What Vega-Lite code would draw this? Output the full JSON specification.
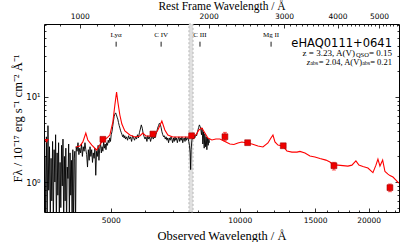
{
  "$schema": "https://vega.github.io/schema/vega-lite/v6.json",
  "width": 355,
  "height": 188,
  "autosize": "none",
  "padding": {"left": 44, "top": 24, "right": 8, "bottom": 30},
  "config": {
    "view": {"stroke": "black", "strokeWidth": 1},
    "axis": {"grid": false, "domain": false, "tickColor": "black", "labelColor": "black", "titleColor": "black", "labelFont": "DejaVu Sans", "labelFontSize": 7.5, "titleFont": "Liberation Serif", "titleFontSize": 12.5, "titleFontWeight": "normal", "tickWidth": 0.8}
  },
  "datasets": {
    "black": [
      {"w":3490,"f":0.5},{"w":3505,"f":2.0},{"w":3520,"f":0.4},{"w":3535,"f":3.4},{"w":3550,"f":0.3},{"w":3565,"f":4.6},{"w":3580,"f":0.8},{"w":3595,"f":2.6},{"w":3610,"f":0.35},{"w":3625,"f":1.9},{"w":3640,"f":0.6},{"w":3655,"f":3.0},{"w":3670,"f":0.3},{"w":3685,"f":2.4},{"w":3700,"f":1.0},{"w":3715,"f":3.6},{"w":3730,"f":0.3},{"w":3745,"f":2.2},{"w":3760,"f":0.7},{"w":3775,"f":2.9},{"w":3790,"f":0.35},{"w":3805,"f":1.7},{"w":3820,"f":0.5},{"w":3835,"f":2.7},{"w":3850,"f":0.9},{"w":3865,"f":3.2},{"w":3880,"f":0.3},{"w":3895,"f":2.0},{"w":3910,"f":0.6},{"w":3925,"f":2.5},{"w":3940,"f":0.3},{"w":3955,"f":1.5},{"w":3970,"f":1.1},{"w":3985,"f":2.8},{"w":4000,"f":0.4},{"w":4015,"f":2.2},{"w":4030,"f":0.7},{"w":4045,"f":1.8},{"w":4060,"f":0.3},{"w":4075,"f":2.4},{"w":4090,"f":0.3},{"w":4105,"f":1.9},{"w":4120,"f":2.3},{"w":4135,"f":0.3},
      {"w":4150,"f":2.6},{"w":4170,"f":2.3},{"w":4190,"f":2.9},{"w":4210,"f":2.1},{"w":4230,"f":2.5},{"w":4250,"f":2.2},{"w":4270,"f":2.8},{"w":4290,"f":2.0},{"w":4310,"f":2.6},{"w":4330,"f":2.3},{"w":4350,"f":2.9},{"w":4370,"f":2.4},{"w":4390,"f":2.1},{"w":4410,"f":1.5},{"w":4430,"f":2.4},{"w":4450,"f":1.8},{"w":4470,"f":2.6},{"w":4490,"f":2.0},{"w":4510,"f":2.4},{"w":4530,"f":1.7},{"w":4550,"f":2.2},{"w":4570,"f":1.9},{"w":4590,"f":2.5},{"w":4610,"f":1.2},{"w":4630,"f":2.3},{"w":4650,"f":2.0},{"w":4670,"f":2.7},{"w":4690,"f":1.8},{"w":4710,"f":2.5},{"w":4730,"f":2.9},{"w":4750,"f":2.2},{"w":4770,"f":2.6},{"w":4790,"f":2.3},{"w":4810,"f":3.0},{"w":4830,"f":2.5},{"w":4850,"f":2.8},{"w":4870,"f":2.4},{"w":4890,"f":2.9},{"w":4910,"f":2.7},{"w":4930,"f":3.1},{"w":4950,"f":2.9},{"w":4970,"f":3.3},{"w":4990,"f":3.0},{"w":5010,"f":3.6},{"w":5030,"f":3.9},{"w":5050,"f":4.5},{"w":5070,"f":5.2},{"w":5090,"f":5.9},{"w":5110,"f":6.3},{"w":5130,"f":6.5},{"w":5150,"f":6.2},{"w":5170,"f":5.8},{"w":5190,"f":5.5},{"w":5210,"f":5.0},{"w":5230,"f":4.6},{"w":5250,"f":4.3},{"w":5270,"f":4.0},{"w":5290,"f":3.8},{"w":5310,"f":3.6},{"w":5330,"f":3.4},{"w":5350,"f":3.6},{"w":5370,"f":3.3},{"w":5390,"f":3.5},{"w":5410,"f":3.2},
      {"w":5440,"f":3.4},{"w":5470,"f":3.1},{"w":5500,"f":3.5},{"w":5530,"f":3.2},{"w":5560,"f":3.4},{"w":5590,"f":3.0},{"w":5620,"f":3.5},{"w":5650,"f":3.3},{"w":5680,"f":3.1},{"w":5710,"f":3.4},{"w":5740,"f":3.2},{"w":5770,"f":3.6},{"w":5800,"f":3.3},{"w":5830,"f":3.8},{"w":5860,"f":4.2},{"w":5890,"f":4.7},{"w":5920,"f":4.3},{"w":5950,"f":3.7},{"w":5980,"f":3.4},{"w":6010,"f":3.2},{"w":6040,"f":3.4},{"w":6070,"f":3.0},{"w":6100,"f":3.5},{"w":6130,"f":3.2},{"w":6160,"f":3.4},{"w":6190,"f":3.0},{"w":6220,"f":3.3},{"w":6250,"f":3.5},{"w":6280,"f":3.2},{"w":6310,"f":3.4},{"w":6340,"f":3.3},{"w":6370,"f":3.6},{"w":6400,"f":3.9},{"w":6430,"f":4.3},{"w":6460,"f":4.6},{"w":6490,"f":4.9},{"w":6520,"f":4.8},{"w":6550,"f":4.4},{"w":6580,"f":3.9},{"w":6610,"f":3.6},{"w":6640,"f":3.4},{"w":6670,"f":3.5},{"w":6700,"f":3.2},{"w":6730,"f":3.4},{"w":6760,"f":3.1},{"w":6790,"f":3.3},{"w":6820,"f":2.9},{"w":6850,"f":3.3},{"w":6880,"f":3.1},{"w":6910,"f":3.4},{"w":6940,"f":3.2},{"w":6970,"f":2.9},{"w":7000,"f":3.3},{"w":7030,"f":3.0},{"w":7060,"f":3.4},{"w":7090,"f":3.1},{"w":7120,"f":3.3},{"w":7150,"f":2.9},{"w":7180,"f":3.2},{"w":7210,"f":3.4},{"w":7240,"f":3.0},{"w":7270,"f":3.3},{"w":7300,"f":3.1},{"w":7330,"f":3.4},{"w":7360,"f":2.9},{"w":7390,"f":3.2},{"w":7420,"f":3.3},{"w":7450,"f":3.0},{"w":7480,"f":3.4},{"w":7510,"f":3.1},{"w":7540,"f":3.3},{"w":7570,"f":3.3},{"w":7600,"f":3.0},{"w":7630,"f":2.7},{"w":7660,"f":2.2},{"w":7680,"f":1.4},{"w":7700,"f":2.4},{"w":7730,"f":3.1},{"w":7760,"f":3.4},{"w":7790,"f":3.2},{"w":7820,"f":3.5},{"w":7850,"f":3.3},{"w":7870,"f":3.4},{"w":7900,"f":3.6},{"w":7930,"f":3.5},{"w":7960,"f":3.8},{"w":7990,"f":4.1},{"w":8020,"f":4.4},{"w":8050,"f":4.7},{"w":8080,"f":4.5},{"w":8110,"f":4.2},{"w":8140,"f":3.6},{"w":8170,"f":4.3},{"w":8200,"f":2.8},{"w":8230,"f":3.9},{"w":8260,"f":2.5},{"w":8290,"f":3.7},{"w":8320,"f":2.6},{"w":8350,"f":3.4},{"w":8380,"f":2.4},{"w":8410,"f":3.3},{"w":8440,"f":2.7},{"w":8470,"f":3.2},{"w":8500,"f":2.9}
    ],
    "red": [
      {"w":4141,"f":2.58},{"w":4232,"f":2.65},{"w":4301,"f":2.96},{"w":4370,"f":3.77},{"w":4417,"f":3.12},{"w":4514,"f":2.72},{"w":4630,"f":2.38},{"w":4713,"f":2.72},{"w":4790,"f":3.12},{"w":4893,"f":3.29},{"w":4973,"f":3.57},{"w":5054,"f":5.08},{"w":5109,"f":8.05},{"w":5156,"f":11.45},{"w":5192,"f":8.73},{"w":5248,"f":6.14},{"w":5305,"f":4.81},{"w":5391,"f":3.98},{"w":5538,"f":3.57},{"w":5689,"f":3.38},{"w":5844,"f":3.48},{"w":5939,"f":3.77},{"w":6036,"f":3.48},{"w":6167,"f":3.48},{"w":6335,"f":3.57},{"w":6438,"f":4.09},{"w":6578,"f":5.22},{"w":6685,"f":4.09},{"w":6794,"f":3.57},{"w":6979,"f":3.38},{"w":7247,"f":3.38},{"w":7525,"f":3.38},{"w":7731,"f":3.38},{"w":7899,"f":3.57},{"w":8027,"f":4.09},{"w":8158,"f":4.32},{"w":8291,"f":3.77},{"w":8426,"f":3.29},{"w":8609,"f":3.12},{"w":8796,"f":3.21},{"w":8987,"f":3.21},{"w":9183,"f":3.04},{"w":9484,"f":2.8},{"w":9691,"f":2.76},{"w":9902,"f":2.88},{"w":10117,"f":2.96},{"w":10395,"f":2.88},{"w":10679,"f":2.8},{"w":11029,"f":2.65},{"w":11329,"f":2.58},{"w":11638,"f":2.88},{"w":11828,"f":3.29},{"w":11956,"f":3.57},{"w":12085,"f":2.96},{"w":12282,"f":2.72},{"w":12617,"f":2.65},{"w":12891,"f":2.32},{"w":13242,"f":2.25},{"w":13604,"f":2.25},{"w":13825,"f":2.29},{"w":14203,"f":2.19},{"w":14587,"f":2.02},{"w":14984,"f":1.97},{"w":15393,"f":1.89},{"w":15896,"f":1.81},{"w":16242,"f":1.72},{"w":16595,"f":1.58},{"w":16956,"f":1.58},{"w":17419,"f":1.56},{"w":17892,"f":1.54},{"w":18282,"f":1.58},{"w":18678,"f":1.77},{"w":18982,"f":1.58},{"w":19396,"f":1.52},{"w":19926,"f":1.46},{"w":20468,"f":1.29},{"w":20804,"f":1.58},{"w":21028,"f":1.86},{"w":21257,"f":1.54},{"w":21568,"f":1.81},{"w":21838,"f":1.33},{"w":22193,"f":1.24},{"w":22434,"f":1.19},{"w":22798,"f":1.145},{"w":23169,"f":1.055},{"w":23508,"f":0.973}
    ],
    "phot": [
      {"w":4790,"f":3.18,"lo":3.1,"hi":3.26},{"w":6268,"f":3.67,"lo":3.58,"hi":3.76},{"w":7719,"f":3.5,"lo":3.42,"hi":3.58},{"w":9235,"f":3.41,"lo":3.06,"hi":3.84},{"w":10433,"f":2.9,"lo":2.83,"hi":2.97},{"w":12637,"f":2.67,"lo":2.6,"hi":2.74},{"w":16596,"f":1.555,"lo":1.384,"hi":1.705},{"w":22430,"f":0.859,"lo":0.769,"hi":0.947}
    ],
    "ulim": [{"w":3539,"f":3.04}],
    "lines": [
      {"w":5144,"name":"Lyα"},{"w":6552,"name":"C IV"},{"w":8075,"name":"C III"},{"w":11836,"name":"Mg II"}
    ],
    "telluric": [{"a":7610,"b":7780}]
  },
  "layer": [
    {
      "layer": [
        {
          "data": {"name": "telluric"},
          "mark": {"type": "rect", "fill": "#e0e0e0", "stroke": "#a8a8a8", "strokeDash": [2, 2], "strokeWidth": 0.8},
          "encoding": {
            "x": {"field": "a", "type": "quantitative", "scale": {"type": "log", "domain": [3490, 23550], "nice": false}, "axis": null},
            "x2": {"field": "b"}
          }
        },
        {
          "data": {"name": "black"},
          "mark": {"type": "line", "color": "black", "strokeWidth": 0.9, "clip": true},
          "encoding": {
            "x": {"field": "w", "type": "quantitative", "scale": {"type": "log", "domain": [3490, 23550], "nice": false},
              "axis": {"orient": "bottom", "values": [5000, 10000, 15000, 20000], "format": "d", "title": "Observed Wavelength / Å", "tickSize": -4, "labelPadding": 8, "titlePadding": 6}},
            "y": {"field": "f", "type": "quantitative", "scale": {"type": "log", "domain": [0.444, 72.2], "nice": false},
              "axis": {"orient": "left", "values": [1, 10], "labelExpr": "datum.value == 1 ? '10⁰' : '10¹'", "labelFontSize": 8.5, "title": "Fλ / 10⁻¹⁷ erg s⁻¹ cm⁻² Å⁻¹", "tickSize": -4, "labelPadding": 8, "titlePadding": 1}}
          }
        },
        {
          "data": {"name": "red"},
          "mark": {"type": "line", "color": "#ff0000", "strokeWidth": 1.1, "clip": true},
          "encoding": {
            "x": {"field": "w", "type": "quantitative", "scale": {"type": "log", "domain": [3490, 23550], "nice": false},
              "axis": {"orient": "bottom", "values": [4000, 6000, 7000, 8000, 9000, 11000, 12000, 13000, 14000, 16000, 17000, 18000, 19000, 21000, 22000, 23000], "labels": false, "tickSize": -2, "title": null}},
            "y": {"field": "f", "type": "quantitative", "scale": {"type": "log", "domain": [0.444, 72.2], "nice": false},
              "axis": {"orient": "left", "values": [0.5, 0.6, 0.7, 0.8, 0.9, 2, 3, 4, 5, 6, 7, 8, 9, 20, 30, 40, 50, 60, 70], "labels": false, "tickSize": -2, "title": null}}
          }
        },
        {
          "data": {"name": "phot"},
          "mark": {"type": "rule", "color": "#ff0000", "strokeWidth": 0.9},
          "encoding": {
            "x": {"field": "w", "type": "quantitative", "scale": {"type": "log", "domain": [3490, 23550], "nice": false}, "axis": null},
            "y": {"field": "lo", "type": "quantitative", "scale": {"type": "log", "domain": [0.444, 72.2], "nice": false},
              "axis": {"orient": "right", "values": [0.5, 0.6, 0.7, 0.8, 0.9, 2, 3, 4, 5, 6, 7, 8, 9, 20, 30, 40, 50, 60, 70], "labels": false, "tickSize": -2, "title": null}},
            "y2": {"field": "hi"}
          }
        },
        {
          "data": {"name": "phot"},
          "mark": {"type": "tick", "color": "#ff0000", "orient": "horizontal", "size": 4, "thickness": 0.9},
          "encoding": {
            "x": {"field": "w", "type": "quantitative", "scale": {"type": "log", "domain": [3490, 23550], "nice": false}, "axis": null},
            "y": {"field": "lo", "type": "quantitative", "scale": {"type": "log", "domain": [0.444, 72.2], "nice": false}, "axis": null}
          }
        },
        {
          "data": {"name": "phot"},
          "mark": {"type": "tick", "color": "#ff0000", "orient": "horizontal", "size": 4, "thickness": 0.9},
          "encoding": {
            "x": {"field": "w", "type": "quantitative", "scale": {"type": "log", "domain": [3490, 23550], "nice": false}, "axis": null},
            "y": {"field": "hi", "type": "quantitative", "scale": {"type": "log", "domain": [0.444, 72.2], "nice": false}, "axis": null}
          }
        },
        {
          "data": {"name": "phot"},
          "mark": {"type": "point", "shape": "square", "filled": true, "size": 34, "color": "#ee0000", "stroke": "#a00000", "strokeWidth": 0.6, "opacity": 1},
          "encoding": {
            "x": {"field": "w", "type": "quantitative", "scale": {"type": "log", "domain": [3490, 23550], "nice": false}, "axis": null},
            "y": {"field": "f", "type": "quantitative", "scale": {"type": "log", "domain": [0.444, 72.2], "nice": false},
              "axis": {"orient": "right", "values": [1, 10], "labels": false, "tickSize": -4, "title": null}}
          }
        },
        {
          "data": {"name": "ulim"},
          "mark": {"type": "point", "shape": "triangle-down", "filled": true, "size": 20, "color": "#ee0000", "opacity": 1},
          "encoding": {
            "x": {"field": "w", "type": "quantitative", "scale": {"type": "log", "domain": [3490, 23550], "nice": false}, "axis": null},
            "y": {"field": "f", "type": "quantitative", "scale": {"type": "log", "domain": [0.444, 72.2], "nice": false}, "axis": null}
          }
        },
        {
          "data": {"name": "lines"},
          "mark": {"type": "text", "font": "Liberation Serif", "fontSize": 7, "align": "center", "color": "black"},
          "encoding": {
            "x": {"field": "w", "type": "quantitative", "scale": {"type": "log", "domain": [3490, 23550], "nice": false}, "axis": null},
            "y": {"datum": 52.9, "type": "quantitative", "scale": {"type": "log", "domain": [0.444, 72.2], "nice": false}, "axis": null},
            "text": {"field": "name"}
          }
        },
        {
          "data": {"name": "lines"},
          "mark": {"type": "rule", "color": "black", "strokeWidth": 0.9},
          "encoding": {
            "x": {"field": "w", "type": "quantitative", "scale": {"type": "log", "domain": [3490, 23550], "nice": false}, "axis": null},
            "y": {"datum": 39.1, "type": "quantitative", "scale": {"type": "log", "domain": [0.444, 72.2], "nice": false}, "axis": null},
            "y2": {"datum": 44.7}
          }
        },
        {
          "data": {"values": [{"t": "eHAQ0111+0641"}]},
          "mark": {"type": "text", "font": "DejaVu Sans", "fontSize": 11.5, "align": "right", "color": "black"},
          "encoding": {
            "x": {"datum": 22676, "type": "quantitative", "scale": {"type": "log", "domain": [3490, 23550], "nice": false}, "axis": null},
            "y": {"datum": 42.25, "type": "quantitative", "scale": {"type": "log", "domain": [0.444, 72.2], "nice": false}, "axis": null},
            "text": {"field": "t"}
          }
        },
        {
          "data": {"values": [{"t": "= 0.15"}]},
          "mark": {"type": "text", "font": "Liberation Serif", "fontSize": 9, "align": "right", "color": "black"},
          "encoding": {
            "x": {"datum": 22676, "type": "quantitative", "scale": {"type": "log", "domain": [3490, 23550], "nice": false}, "axis": null},
            "y": {"datum": 32.49, "type": "quantitative", "scale": {"type": "log", "domain": [0.444, 72.2], "nice": false}, "axis": null},
            "text": {"field": "t"}
          }
        },
        {
          "data": {"values": [{"t": "QSO"}]},
          "mark": {"type": "text", "font": "Liberation Serif", "fontSize": 6.5, "align": "right", "color": "black"},
          "encoding": {
            "x": {"datum": 20035, "type": "quantitative", "scale": {"type": "log", "domain": [3490, 23550], "nice": false}, "axis": null},
            "y": {"datum": 30.77, "type": "quantitative", "scale": {"type": "log", "domain": [0.444, 72.2], "nice": false}, "axis": null},
            "text": {"field": "t"}
          }
        },
        {
          "data": {"values": [{"t": "z = 3.23, A(V)"}]},
          "mark": {"type": "text", "font": "Liberation Serif", "fontSize": 9, "align": "right", "color": "black"},
          "encoding": {
            "x": {"datum": 18579, "type": "quantitative", "scale": {"type": "log", "domain": [3490, 23550], "nice": false}, "axis": null},
            "y": {"datum": 32.49, "type": "quantitative", "scale": {"type": "log", "domain": [0.444, 72.2], "nice": false}, "axis": null},
            "text": {"field": "t"}
          }
        },
        {
          "data": {"values": [{"t": "= 0.21"}]},
          "mark": {"type": "text", "font": "Liberation Serif", "fontSize": 8.5, "align": "right", "color": "black"},
          "encoding": {
            "x": {"datum": 22676, "type": "quantitative", "scale": {"type": "log", "domain": [3490, 23550], "nice": false}, "axis": null},
            "y": {"datum": 25.81, "type": "quantitative", "scale": {"type": "log", "domain": [0.444, 72.2], "nice": false}, "axis": null},
            "text": {"field": "t"}
          }
        },
        {
          "data": {"values": [{"t": "abs"}]},
          "mark": {"type": "text", "font": "Liberation Serif", "fontSize": 6, "align": "right", "color": "black"},
          "encoding": {
            "x": {"datum": 20165, "type": "quantitative", "scale": {"type": "log", "domain": [3490, 23550], "nice": false}, "axis": null},
            "y": {"datum": 24.78, "type": "quantitative", "scale": {"type": "log", "domain": [0.444, 72.2], "nice": false}, "axis": null},
            "text": {"field": "t"}
          }
        },
        {
          "data": {"values": [{"t": "= 2.04, A(V)"}]},
          "mark": {"type": "text", "font": "Liberation Serif", "fontSize": 8.5, "align": "right", "color": "black"},
          "encoding": {
            "x": {"datum": 19316, "type": "quantitative", "scale": {"type": "log", "domain": [3490, 23550], "nice": false}, "axis": null},
            "y": {"datum": 25.81, "type": "quantitative", "scale": {"type": "log", "domain": [0.444, 72.2], "nice": false}, "axis": null},
            "text": {"field": "t"}
          }
        },
        {
          "data": {"values": [{"t": "abs"}]},
          "mark": {"type": "text", "font": "Liberation Serif", "fontSize": 6, "align": "right", "color": "black"},
          "encoding": {
            "x": {"datum": 15244, "type": "quantitative", "scale": {"type": "log", "domain": [3490, 23550], "nice": false}, "axis": null},
            "y": {"datum": 24.78, "type": "quantitative", "scale": {"type": "log", "domain": [0.444, 72.2], "nice": false}, "axis": null},
            "text": {"field": "t"}
          }
        },
        {
          "data": {"values": [{"t": "z"}]},
          "mark": {"type": "text", "font": "Liberation Serif", "fontSize": 8.5, "fontStyle": "italic", "align": "right", "color": "black"},
          "encoding": {
            "x": {"datum": 14601, "type": "quantitative", "scale": {"type": "log", "domain": [3490, 23550], "nice": false}, "axis": null},
            "y": {"datum": 25.81, "type": "quantitative", "scale": {"type": "log", "domain": [0.444, 72.2], "nice": false}, "axis": null},
            "text": {"field": "t"}
          }
        }
      ],
      "resolve": {"axis": {"x": "independent", "y": "independent"}}
    },
    {
      "data": {"values": [{"r": 1000}]},
      "mark": {"type": "point", "opacity": 0},
      "encoding": {
        "x": {"field": "r", "type": "quantitative", "scale": {"type": "log", "domain": [825.1, 5567.4], "nice": false},
          "axis": {"orient": "top", "values": [1000, 2000, 3000, 4000, 5000], "format": "d", "title": "Rest Frame Wavelength / Å", "titleFontSize": 11.5, "tickSize": -4, "labelPadding": 8, "titlePadding": 1}}
      }
    },
    {
      "data": {"values": [{"r": 1000}]},
      "mark": {"type": "point", "opacity": 0},
      "encoding": {
        "x": {"field": "r", "type": "quantitative", "scale": {"type": "log", "domain": [825.1, 5567.4], "nice": false},
          "axis": {"orient": "top", "values": [900, 1100, 1200, 1300, 1400, 1500, 1600, 1700, 1800, 1900, 2100, 2200, 2300, 2400, 2500, 2600, 2700, 2800, 2900, 3100, 3200, 3300, 3400, 3500, 3600, 3700, 3800, 3900, 4100, 4200, 4300, 4400, 4500, 4600, 4700, 4800, 4900, 5100, 5200, 5300, 5400, 5500], "labels": false, "tickSize": -2, "title": null}}
      }
    }
  ],
  "resolve": {"scale": {"x": "independent"}, "axis": {"x": "independent", "y": "independent"}}
}
